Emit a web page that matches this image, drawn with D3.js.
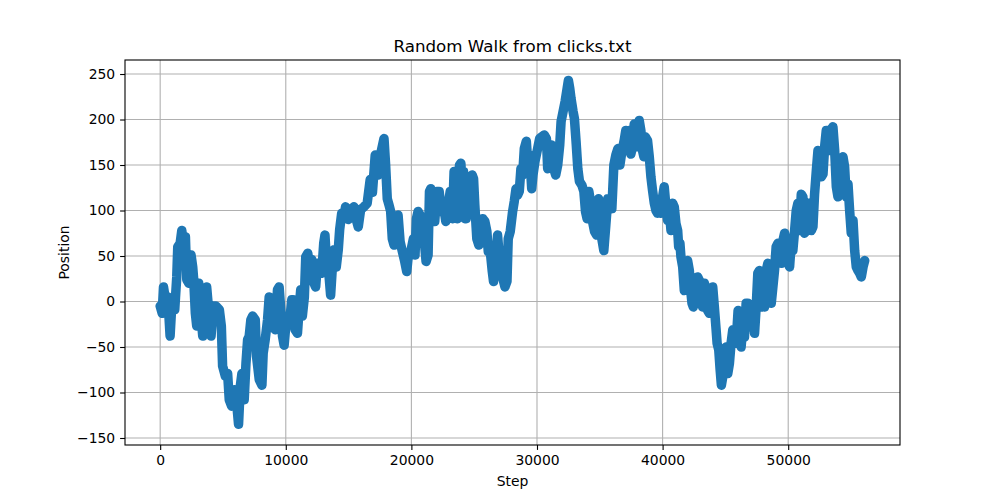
<!DOCTYPE html>
<html><head><meta charset="utf-8">
<script src="https://cdn.jsdelivr.net/npm/d3@7"></script>
<style>body{margin:0;background:#fff}svg{display:block}text{font-family:"DejaVu Sans",sans-serif}</style>
</head><body><svg id="c" width="1000" height="500"></svg>
<script>
const steps = [0,160,265,420,610,790,950,1160,1320,1400,1590,1720,1850,2010,2120,2280,2460,2590,2670,2800,2910,3070,3180,3390,3550,3700,3860,4050,4230,4450,4710,4870,4970,5190,5370,5500,5690,5900,6090,6240,6380,6510,6690,6830,6960,7090,7220,7360,7570,7670,7890,8100,8200,8360,8550,8680,8840,9000,9160,9340,9470,9600,9740,9870,10000,10130,10320,10480,10580,10740,10930,11060,11190,11320,11480,11590,11750,11910,12070,12250,12380,12520,12700,12860,13020,13120,13260,13440,13570,13710,13840,14020,14180,14290,14450,14630,14760,14980,15190,15430,15610,15770,15960,16220,16480,
16720,16900,17120,17360,17600,
17820,17950,18080,18220,18350,18480,18620,18750,18940,19100,19280,19470,19630,19730,19950,20160,20290,20400,20530,20690,20850,21010,21170,21330,21440,21540,21680,21860,22020,22210,22390,22550,22740,22930,23090,23270,23400,23540,23670,23830,23940,24040,24150,24260,24360,24520,24680,24840,24950,25050,25210,25370,25530,25690,25850,26010,26120,26280,26440,26540,26700,26860,26990,27130,27290,27450,27610,27710,27870,28060,28190,28330,28460,28590,28720,28860,28990,29150,29260,29420,29580,29680,29840,30050,30210,30370,30580,30750,30850,30990,31170,31330,31490,31650,31810,31920,32080,32240,32400,32500,32610,32710,32870,32980,33110,33250,33380,33570,33730,33860,33990,34130,34260,34420,34580,34740,34900,35060,35160,35320,35480,35640,35800,35960,36120,36280,36440,36600,36760,
36940,37070,37210,37340,37470,37610,37740,37870,38010,38140,38270,38400,38510,38620,38800,38940,39070,39200,39340,39470,39600,39730,39870,40000,40130,40270,40400,40530,40670,40800,40930,41060,41200,41280,41380,41460,41600,41730,41860,41990,42130,42210,42340,42450,42610,42790,42930,43060,43190,43330,43460,43590,43720,43860,43990,44120,44260,44340,44470,44580,44680,44790,44920,45050,45190,45320,45450,45590,45720,45850,46010,46120,46250,46380,46520,46650,46780,46920,47050,47180,47320,47450,47580,47710,47850,47980,48110,48250,48380,48510,48650,48780,48910,49040,49180,49310,49440,49580,49710,49840,49980,50110,50240,50370,50510,50640,50770,50900,51040,51170,51300,51440,51570,51700,51840,51970,52100,52240,52370,52500,52640,52770,52900,53030,53170,53300,53430,53560,53700,53830,53960,54090,54220,54360,54490,54620,54760,54890,55020,55160,55290,55420,55560,55690,55820,55960,56090];
const positions = [-5,-13,16,2,5,-38,2,-9,27,60,64,78,64,71,24,20,51,38,24,-13,-27,20,-5,-38,-5,16,-9,-38,-5,-5,-9,-27,-71,-82,-79,-108,-115,-97,-112,-135,-93,-79,-108,-68,-42,-38,-20,-16,-20,-60,-86,-92,-57,-42,-20,5,-27,-16,-31,13,16,-9,-38,-48,-27,-16,-20,2,2,-31,-35,-9,13,-16,5,49,53,38,46,20,16,42,42,31,64,73,38,29,7,38,57,38,57,79,97,93,104,90,101,104,90,82,101,104,108,
134,120,161,139,165,
179,150,113,106,99,69,62,91,95,66,55,44,33,47,55,69,51,91,99,95,69,69,44,51,121,124,88,88,121,121,99,106,88,106,121,91,143,143,91,150,152,128,143,91,91,121,128,139,135,106,69,62,88,91,88,77,55,55,33,22,44,73,51,33,25,16,22,69,77,99,110,124,117,121,146,139,168,176,154,161,124,139,154,168,179,181,183,179,146,168,172,146,139,150,172,198,209,220,234,243,234,223,209,201,176,146,132,128,121,99,91,121,110,88,77,73,113,106,69,56,84,113,113,102,150,161,168,150,165,
177,188,181,188,162,170,195,188,170,199,188,166,159,181,177,159,137,122,108,100,97,100,97,115,126,104,89,100,78,108,104,86,78,60,64,49,38,12,42,45,34,16,-2,-6,12,27,23,1,-6,20,12,-10,-13,5,16,-6,-31,-46,-53,-75,-92,-83,-61,-50,-79,-68,-46,-31,-42,-46,-10,-20,-50,-28,-39,-2,-2,-20,-28,-10,-35,-6,31,34,-6,12,-6,34,42,20,-2,16,34,60,64,56,42,67,75,64,42,38,64,56,78,100,108,78,118,115,75,78,108,108,78,82,118,144,166,162,137,140,170,188,188,166,188,192,166,126,115,137,155,159,148,115,129,100,75,89,56,38,34,31,27,38,45];
const xTicks = [0,10000,20000,30000,40000,50000];
const yTicks = [-150,-100,-50,0,50,100,150,200,250];
const title = "Random Walk from clicks.txt", xLabel = "Step", yLabel = "Position";

const svg = d3.select("#c");
const L=125,R=900,T=60,B=445;
const x = d3.scaleLinear().domain([-2800,58900]).range([L,R]);
const y = d3.scaleLinear().domain([-157.7,265.4]).range([B,T]);
const fs = "13.9px";
svg.append("g").selectAll("line").data(xTicks).join("line")
  .attr("x1",d=>x(d)).attr("x2",d=>x(d)).attr("y1",T).attr("y2",B)
  .attr("stroke","#b0b0b0").attr("stroke-width",1.1);
svg.append("g").selectAll("line").data(yTicks).join("line")
  .attr("y1",d=>y(d)).attr("y2",d=>y(d)).attr("x1",L).attr("x2",R)
  .attr("stroke","#b0b0b0").attr("stroke-width",1.1);
svg.append("clipPath").attr("id","cp").append("rect").attr("x",L).attr("y",T).attr("width",R-L).attr("height",B-T);
const data = steps.map((s,i)=>[s,positions[i]]);
svg.append("path").datum(data).attr("clip-path","url(#cp)")
  .attr("d",d3.line().x(d=>x(d[0])).y(d=>y(d[1])))
  .attr("fill","none").attr("stroke","#1f77b4").attr("stroke-width",9.5)
  .attr("stroke-linejoin","round").attr("stroke-linecap","round");
const gx = svg.append("g").attr("transform",`translate(0,${B})`)
  .call(d3.axisBottom(x).tickValues(xTicks).tickFormat(d3.format("d")).tickSize(4.9).tickPadding(4.9));
const gy = svg.append("g").attr("transform",`translate(${L},0)`)
  .call(d3.axisLeft(y).tickValues(yTicks).tickFormat(d=>d<0?"\u2212"+Math.abs(d):d).tickSize(4.9).tickPadding(4.9));
[gx,gy].forEach(g=>{g.select(".domain").remove();g.selectAll("text").style("font-size",fs).attr("fill","#000");g.selectAll("line").attr("stroke","#000").attr("stroke-width",1.1);});
svg.append("rect").attr("x",L).attr("y",T).attr("width",R-L).attr("height",B-T).attr("fill","none").attr("stroke","#000").attr("stroke-width",1.1);
svg.append("text").attr("x",(L+R)/2).attr("y",T-8).attr("text-anchor","middle").style("font-size","16.7px").text(title);
svg.append("text").attr("x",(L+R)/2).attr("y",486).attr("text-anchor","middle").style("font-size",fs).text(xLabel);
svg.append("text").attr("transform",`translate(69,${(T+B)/2}) rotate(-90)`).attr("text-anchor","middle").style("font-size",fs).text(yLabel);
</script></body></html>
